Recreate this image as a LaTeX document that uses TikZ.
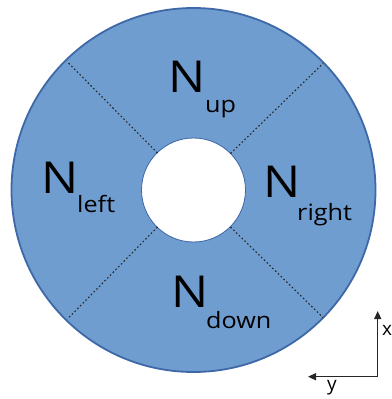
\documentclass[tikz,border=0pt]{standalone}
\usepackage{fontspec}
\setmainfont{Open Sans}
\usetikzlibrary{arrows.meta}
\definecolor{ringfill}{RGB}{112,157,207}
\definecolor{ringline}{RGB}{62,104,168}
\tikzset{
  big/.style={inner sep=0pt, anchor=base west, font=\fontsize{44}{44}\selectfont, xscale=1.12},
  sub/.style={inner sep=0pt, anchor=base west, font=\fontsize{22.5}{22.5}\selectfont, xscale=1.12},
  sep/.style={dash pattern=on 1.6pt off 2.3pt, line width=1.1pt, black!85},
  axis/.style={line width=1.3pt, black!85, -{Triangle[length=8pt,width=7pt]}},
  axlbl/.style={inner sep=0pt, font=\fontsize{19}{19}\selectfont}
}
\begin{document}
\begin{tikzpicture}[x=1pt,y=-1pt]
\useasboundingbox (0,0) rectangle (391,399);
\coordinate (c) at (193.5,190);
\fill[ringfill, even odd rule] (c) circle (182) (c) circle (52);
\draw[ringline, line width=1.8pt] (c) circle (182);
\draw[ringline, line width=0.8pt] (c) circle (52);
\coordinate (o1) at (323,63.5);
\coordinate (o2) at (68,62.5);
\coordinate (o3) at (67.5,319);
\coordinate (o4) at (323,317.5);
\coordinate (i1) at (230.5,153.5);
\coordinate (i2) at (157.5,153);
\coordinate (i3) at (157.5,227);
\coordinate (i4) at (230.5,227);
\draw[sep] (i1) -- (o1);
\draw[sep] (i2) -- (o2);
\draw[sep] (i3) -- (o3);
\draw[sep] (i4) -- (o4);
\node[big] (nu) at (168,92) {N};
\node[sub] (su) at (205,112) {up};
\node[big] (nl) at (41,193) {N};
\node[sub] (sl) at (77,212) {left};
\node[big] (nr) at (263,197) {N};
\node[sub] (sr) at (297,220) {right};
\node[big] (nd) at (171,307) {N};
\node[sub] (sd) at (206,328) {down};
\coordinate (corner) at (377.7,376.7);
\coordinate (xt) at (377.7,311);
\coordinate (yt) at (308,376.7);
\draw[axis] (corner) -- (xt);
\draw[axis] (corner) -- (yt);
\node[axlbl, anchor=west] (xl) at (382,330) {x};
\node[axlbl, anchor=north] (yl) at (332,380) {y};
\end{tikzpicture}
\end{document}
